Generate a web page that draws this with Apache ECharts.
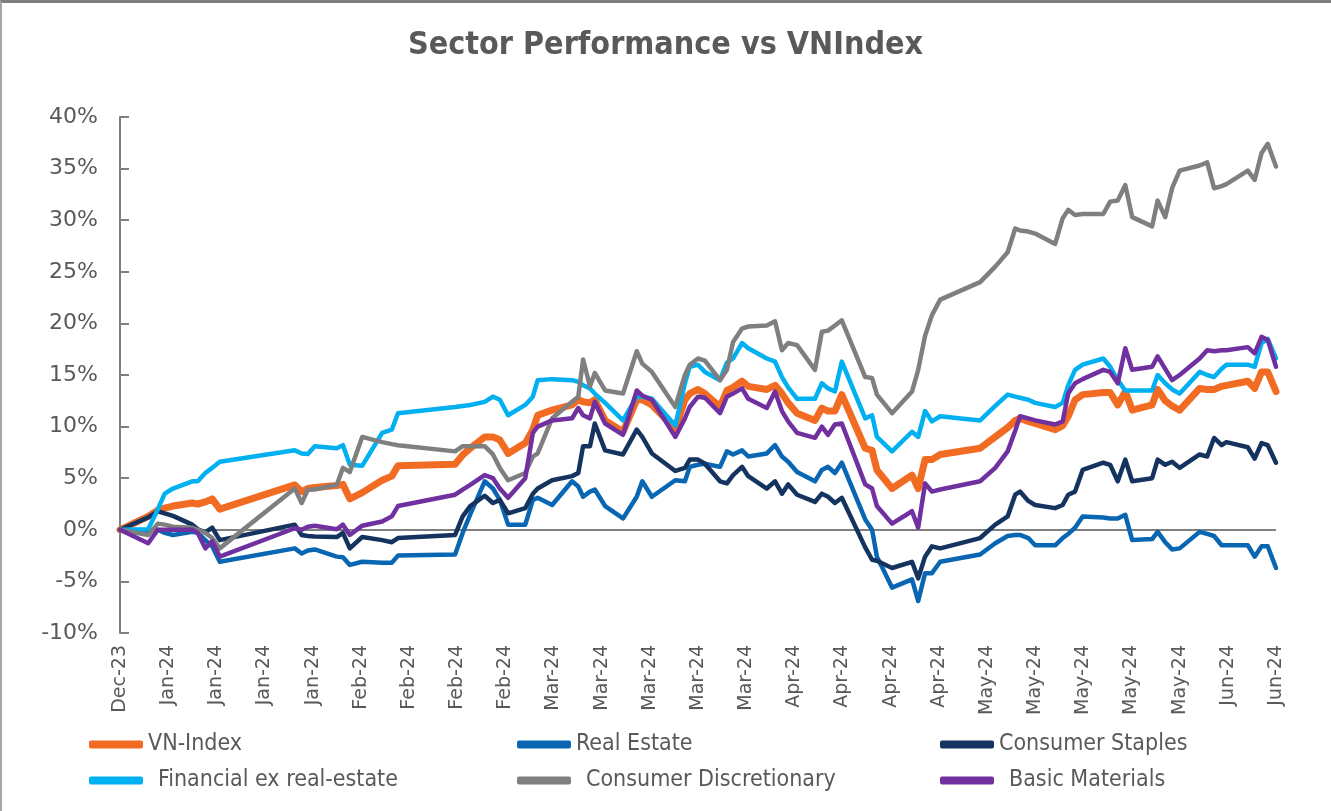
<!DOCTYPE html>
<html>
<head>
<meta charset="utf-8">
<title>Sector Performance vs VNIndex</title>
<script src="https://cdn.jsdelivr.net/npm/echarts@6/dist/echarts.min.js"></script>
<style>
  html, body { margin: 0; padding: 0; background: #fff; }
  #chart { width: 1331px; height: 811px; }
  #frame {
    position: absolute; left: 0; top: 0; width: 1331px; height: 811px;
    box-sizing: border-box; pointer-events: none;
    border-top: 3px solid #7f7f7f; border-left: 2px solid #a6a6a6;
  }
</style>
</head>
<body>
<div id="chart"></div>
<div id="frame"></div>
<script>
  // x = days since 29 Dec 2023, y = cumulative return in %
  var tickLabels = ['Dec-23', 'Jan-24', 'Jan-24', 'Jan-24', 'Jan-24', 'Feb-24', 'Feb-24', 'Feb-24', 'Feb-24',
    'Mar-24', 'Mar-24', 'Mar-24', 'Mar-24', 'Mar-24', 'Apr-24', 'Apr-24', 'Apr-24', 'Apr-24',
    'May-24', 'May-24', 'May-24', 'May-24', 'May-24', 'Jun-24', 'Jun-24'];

  var days = [0, 4.1, 5.5, 6.5, 7.7, 10.5, 11.3, 12.4, 13.4, 14.5,
    25.4, 26.4, 27.3, 28.3, 31.5, 32.4, 33.4, 35.2, 38.1, 39.5, 40.4,
    48.7, 49.8, 50.9, 53.0, 54.2, 55.2, 56.4, 58.9, 60.0, 60.7,
    62.8, 65.7, 66.6, 67.3, 68.3, 69.0, 70.5, 73.1, 75.1, 75.9, 77.3,
    80.7, 82.1, 82.8, 84.0, 85.0, 87.2, 88.2, 89.1, 90.4, 91.3,
    94.0, 95.2, 96.2, 97.1, 98.4, 101.0, 102.0, 102.9, 103.9, 104.9,
    108.3, 109.3, 110.0, 112.2, 115.1, 116.0, 117.0, 118.0, 119.2,
    125.0, 127.2, 129.0, 130.1, 130.8, 132.0, 133.0, 135.9, 137.0, 137.8, 138.8, 139.9,
    142.9, 143.9, 145.0, 146.1, 147.1, 150.0, 150.8, 151.9, 152.9, 154.0,
    156.9, 158.0, 159.0, 160.1, 160.8, 163.9, 164.9, 165.9, 166.8, 168.0];

  var vnIndex = [0, 1.3, 1.9, 2.1, 2.3, 2.6, 2.5, 2.7, 3.0, 2.0,
    4.35, 3.7, 4.0, 4.1, 4.3, 4.4, 3.0, 3.6, 4.8, 5.2, 6.2,
    6.35, 7.25, 7.9, 9.0, 9.0, 8.7, 7.4, 8.4, 9.7, 11.1,
    11.6, 12.1, 12.6, 12.4, 12.3, 12.6, 10.6, 9.5, 12.6, 12.6, 12.1,
    9.8, 12.6, 13.2, 13.6, 13.2, 11.9, 13.5, 13.8, 14.4, 13.9,
    13.6, 14.0, 13.2, 12.3, 11.3, 10.6, 11.8, 11.5, 11.5, 13.1,
    7.9, 7.7, 5.8, 4.0, 5.3, 4.0, 6.8, 6.8, 7.3,
    7.9, 9.0, 9.9, 10.6, 10.8, 10.5, 10.3, 9.7, 10.1, 11.0, 12.6, 13.1,
    13.3, 13.3, 12.1, 13.4, 11.6, 12.1, 13.6, 12.5, 12.0, 11.6,
    13.7, 13.6, 13.6, 13.9, 14.0, 14.4, 13.7, 15.3, 15.3, 13.4];

  var realEstate = [0, -0.15, 0, -0.3, -0.5, -0.2, -0.3, -1.0, -1.6, -3.1,
    -1.8, -2.3, -2.0, -1.9, -2.6, -2.65, -3.4, -3.1, -3.2, -3.2, -2.5,
    -2.4, -0.3, 1.5, 4.7, 4.0, 2.9, 0.5, 0.5, 2.9, 3.1,
    2.4, 4.7, 4.2, 3.2, 3.7, 3.9, 2.3, 1.1, 3.2, 4.7, 3.2,
    4.8, 4.7, 6.1, 6.3, 6.4, 6.1, 7.6, 7.3, 7.7, 7.1,
    7.4, 8.2, 7.1, 6.6, 5.6, 4.7, 5.8, 6.1, 5.5, 6.5,
    1.0, 0.0, -2.6, -5.6, -4.8, -6.9, -4.2, -4.2, -3.1,
    -2.4, -1.3, -0.6, -0.5, -0.5, -0.8, -1.5, -1.5, -0.8, -0.4, 0.2, 1.3,
    1.2, 1.1, 1.1, 1.45, -1.0, -0.9, -0.2, -1.2, -1.9, -1.8,
    -0.2, -0.4, -0.6, -1.5, -1.5, -1.5, -2.6, -1.6, -1.6, -3.7];

  var consumerStaples = [0, 1.2, 1.8, 1.6, 1.35, 0.5, 0.05, -0.25, 0.2, -1.0,
    0.5, -0.5, -0.6, -0.65, -0.7, -0.3, -1.8, -0.7, -1.0, -1.2, -0.8,
    -0.5, 1.3, 2.3, 3.3, 2.6, 2.9, 1.6, 2.1, 3.5, 4.0,
    4.8, 5.2, 5.5, 8.1, 8.1, 10.3, 7.7, 7.3, 9.7, 9.0, 7.4,
    5.7, 6.0, 6.8, 6.8, 6.4, 4.7, 4.5, 5.3, 6.1, 5.2,
    4.0, 4.7, 3.5, 4.4, 3.4, 2.7, 3.5, 3.2, 2.6, 3.1,
    -1.7, -2.9, -3.0, -3.7, -3.1, -4.7, -2.6, -1.6, -1.8,
    -0.8, 0.5, 1.3, 3.4, 3.7, 2.8, 2.4, 2.1, 2.4, 3.4, 3.7, 5.8,
    6.5, 6.3, 4.7, 6.8, 4.7, 5.0, 6.8, 6.3, 6.6, 6.0,
    7.3, 7.1, 8.9, 8.2, 8.5, 8.0, 6.9, 8.4, 8.2, 6.5];

  var financials = [0, 0.05, 2.0, 3.5, 4.0, 4.7, 4.7, 5.5, 6.0, 6.6,
    7.7, 7.4, 7.35, 8.1, 7.9, 8.2, 6.3, 6.2, 9.4, 9.7, 11.3,
    11.9, 12.0, 12.1, 12.4, 12.9, 12.6, 11.1, 12.1, 12.9, 14.5,
    14.6, 14.5, 14.35, 14.0, 13.7, 13.2, 12.3, 10.6, 12.9, 12.9, 12.7,
    10.1, 14.2, 15.8, 16.0, 15.3, 14.5, 16.2, 16.6, 18.1, 17.6,
    16.6, 16.3, 14.8, 13.8, 12.7, 12.7, 14.2, 13.7, 13.4, 16.3,
    10.8, 11.1, 9.0, 7.6, 9.5, 9.0, 11.5, 10.5, 11.0,
    10.6, 12.0, 13.1, 12.9, 12.8, 12.6, 12.3, 11.9, 12.3, 14.0, 15.5, 16.0,
    16.6, 15.8, 14.5, 13.5, 13.5, 13.5, 15.0, 14.2, 13.6, 13.2,
    15.3, 15.0, 14.8, 15.6, 16.0, 16.0, 15.8, 18.1, 18.5, 16.6];

  var consumerDisc = [0, -0.5, 0.6, 0.5, 0.3, 0.2, 0.0, -0.3, -0.8, -1.8,
    4.0, 2.6, 3.9, 3.9, 4.35, 6.0, 5.6, 9.0, 8.5, 8.3, 8.2,
    7.6, 8.1, 8.1, 8.1, 7.3, 6.0, 4.8, 5.5, 7.1, 7.4,
    10.8, 12.4, 12.9, 16.5, 13.9, 15.2, 13.5, 13.2, 17.3, 16.1, 15.3,
    11.9, 15.0, 16.0, 16.6, 16.4, 14.5, 15.5, 18.2, 19.5, 19.7,
    19.8, 20.2, 17.4, 18.1, 17.9, 15.5, 19.2, 19.3, 19.8, 20.3,
    14.8, 14.7, 13.1, 11.3, 13.4, 15.5, 18.8, 20.8, 22.3,
    24.0, 25.5, 26.9, 29.2, 29.0, 28.9, 28.7, 27.7, 30.2, 31.0, 30.5, 30.6,
    30.6, 31.8, 31.9, 33.4, 30.3, 29.4, 31.9, 30.3, 33.1, 34.8,
    35.3, 35.6, 33.1, 33.3, 33.5, 34.8, 33.9, 36.5, 37.4, 35.2];

  var basicMaterials = [0, -1.3, 0, 0, 0, 0, -0.3, -1.8, -1.1, -2.6,
    0.15, 0, 0.3, 0.4, 0.05, 0.5, -0.5, 0.4, 0.8, 1.3, 2.3,
    3.4, 3.9, 4.35, 5.3, 5.0, 4.0, 3.1, 5.0, 9.4, 10.0,
    10.6, 10.8, 11.8, 11.1, 10.8, 12.4, 10.3, 9.2, 13.5, 13.0, 12.6,
    9.0, 10.8, 11.9, 12.9, 12.8, 11.3, 12.9, 13.2, 13.7, 12.7,
    11.8, 13.4, 11.5, 10.5, 9.4, 8.9, 10.0, 9.2, 10.2, 10.3,
    4.4, 4.0, 2.3, 0.6, 1.8, 0.2, 4.5, 3.7, 3.9,
    4.7, 6.0, 7.6, 9.6, 11.0, 10.8, 10.6, 10.2, 10.5, 13.2, 14.2, 14.6,
    15.5, 15.3, 14.2, 17.6, 15.5, 15.8, 16.8, 15.6, 14.5, 15.0,
    16.6, 17.4, 17.3, 17.4, 17.4, 17.7, 17.1, 18.7, 18.4, 15.8];

  var seriesNames = ['VN-Index', 'Real Estate', 'Consumer Staples',
    'Financial ex real-estate', 'Consumer Discretionary', 'Basic Materials'];
  var seriesValues = [vnIndex, realEstate, consumerStaples, financials, consumerDisc, basicMaterials];
  var colors = ['#f26b22', '#0866b2', '#14335e', '#00b0f0', '#7f7f7f', '#7030a0'];
  var widths = [7, 4.5, 4.5, 4.5, 4.5, 4.5];

  var textColor = '#595959';
  var font = 'DejaVu Sans';
  var narrowFont = "'DejaVu Sans Condensed', 'DejaVu Sans', sans-serif";

  function toPoints(vals) {
    return days.map(function (d, i) { return [d, vals[i]]; });
  }

  // only the 0% split line is visible
  var splitColors = [];
  for (var v = -10; v <= 40; v += 5) {
    splitColors.push(v === 0 ? '#808080' : 'rgba(0,0,0,0)');
  }

  var series = seriesNames.map(function (name, i) {
    return {
      name: name,
      type: 'line',
      data: toPoints(seriesValues[i]),
      showSymbol: false,
      symbol: 'none',
      color: colors[i],
      lineStyle: { width: widths[i], color: colors[i], cap: 'round', join: 'round' },
      emphasis: { disabled: true }
    };
  });

  // legend slots: [left, top, text indent]
  var legendSlots = [[89, 733, 0], [517, 733, 0], [940, 733, 0], [89, 769, 10], [517, 769, 10], [940, 769, 10]];
  var legends = seriesNames.map(function (name, i) {
    return {
      data: [name],
      left: legendSlots[i][0],
      top: legendSlots[i][1],
      padding: 0,
      icon: 'roundRect',
      itemWidth: 54,
      itemHeight: 8,
      selectedMode: false,
      textStyle: {
        color: textColor, fontSize: 23, fontFamily: narrowFont,
        padding: [0, 0, 0, legendSlots[i][2]]
      }
    };
  });

  var chart = echarts.init(document.getElementById('chart'));
  var option = {
    animation: false,
    backgroundColor: '#ffffff',
    title: {
      text: 'Sector Performance vs VNIndex',
      left: 'center',
      top: 25,
      textStyle: { color: textColor, fontSize: 32, fontWeight: 'bold', fontFamily: narrowFont }
    },
    legend: legends,
    grid: { left: 120, right: 55, top: 117, bottom: 178 },
    xAxis: {
      type: 'value',
      min: 0,
      max: 168,
      interval: 7,
      axisLine: { show: false },
      axisTick: { show: false },
      splitLine: { show: false },
      axisLabel: {
        rotate: 90,
        margin: 12,
        color: textColor,
        fontSize: 19,
        fontFamily: font,
        formatter: function (val) { return tickLabels[Math.round(val / 7)]; }
      }
    },
    yAxis: {
      type: 'value',
      min: -10,
      max: 40,
      interval: 5,
      axisLine: { show: true, lineStyle: { color: '#808080', width: 2 } },
      axisTick: { show: true, inside: true, length: 9, lineStyle: { color: '#808080', width: 2 } },
      axisLabel: { formatter: '{value}%', color: textColor, fontSize: 22, fontFamily: font, margin: 22 },
      splitLine: { show: true, lineStyle: { color: splitColors, width: 2 } }
    },
    series: series
  };
  chart.setOption(option);
</script>
</body>
</html>
